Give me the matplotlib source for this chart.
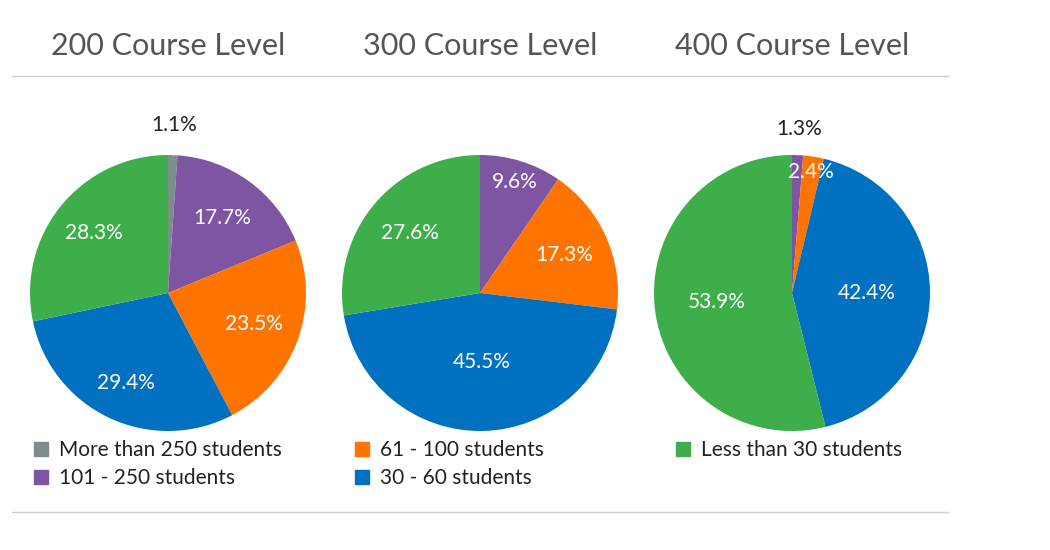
import numpy as np
import matplotlib.pyplot as plt

plt.rcParams['font.family'] = ['Lato', 'DejaVu Sans']

titles = ['200 Course Level', '300 Course Level', '400 Course Level']
categories = ['More than 250 students', '101 - 250 students', '61 - 100 students',
              '30 - 60 students', 'Less than 30 students']
colors = ['#7f8c8d', '#7e55a3', '#ff7400', '#0070c0', '#3dae49']

# shares per pie, in category order (0 = slice not present)
pie_200 = [1.1, 17.7, 23.5, 29.4, 28.3]
pie_300 = [0.0, 9.6, 17.3, 45.5, 27.6]
pie_400 = [0.0, 1.3, 2.4, 42.4, 53.9]

# label distance from centre (fraction of radius) for each slice
lab_r = [[1.22, 0.67, 0.66, 0.72, 0.69],
         [0, 0.84, 0.67, 0.50, 0.67],
         [1.19, 1.19, 0.89, 0.54, 0.55]]

fig = plt.figure(figsize=(10.5, 5.5), dpi=100)
W, H = 1050, 550
centers = [168, 480, 792]
R = 138
cy = 293

for i, vals in enumerate([pie_200, pie_300, pie_400]):
    ax = fig.add_axes([(centers[i] - R) / W, 1 - (cy + R) / H, 2 * R / W, 2 * R / H])
    v = [x for x in vals if x > 0]
    c = [colors[k] for k, x in enumerate(vals) if x > 0]
    rr = [lab_r[i][k] for k, x in enumerate(vals) if x > 0]
    ax.pie(v, colors=c, startangle=90, counterclock=False, radius=1,
           wedgeprops=dict(linewidth=0))
    cum = 0
    for val, r in zip(v, rr):
        mid = 90 - (cum + val / 2) / 100 * 360
        cum += val
        a = np.deg2rad(mid)
        x, y = r * np.cos(a), r * np.sin(a)
        if r > 1:
            ax.plot([1.0 * np.cos(a), 1.06 * np.cos(a)], [1.0 * np.sin(a), 1.06 * np.sin(a)],
                    color='#cccccc', lw=1)
            ax.text(x, y, f'{val}%', ha='center', va='center', fontsize=15, color='#222222')
        else:
            ax.text(x, y, f'{val}%', ha='center', va='center', fontsize=15, color='white')
    ax.set_xlim(-1, 1)
    ax.set_ylim(-1, 1)
    ax.set_aspect('equal')
    ax.axis('off')
    fig.text(centers[i] / W, 1 - 46 / H, titles[i], ha='center', va='center',
             fontsize=22, color='#555555')

# separator lines
fig.add_artist(plt.Line2D([12 / W, 948 / W], [1 - 76 / H, 1 - 76 / H], color='#cccccc', lw=1))
fig.add_artist(plt.Line2D([12 / W, 948 / W], [1 - 512 / H, 1 - 512 / H], color='#cccccc', lw=1))

# legend, one block per column
handles = [plt.Rectangle((0, 0), 1, 1, color=col) for col in colors]
col_x = [34, 355, 676]
groups = [[0, 1], [2, 3], [4]]
for gx, g in zip(col_x, groups):
    leg = fig.legend([handles[k] for k in g], [categories[k] for k in g], loc='upper left',
                     bbox_to_anchor=(gx / W, 1 - 440 / H), frameon=False, fontsize=15,
                     handlelength=0.65, handleheight=0.65, handletextpad=0.55,
                     labelspacing=0.38, borderaxespad=0, borderpad=0, labelcolor='#222222')

fig.savefig('out.png', dpi=100)
